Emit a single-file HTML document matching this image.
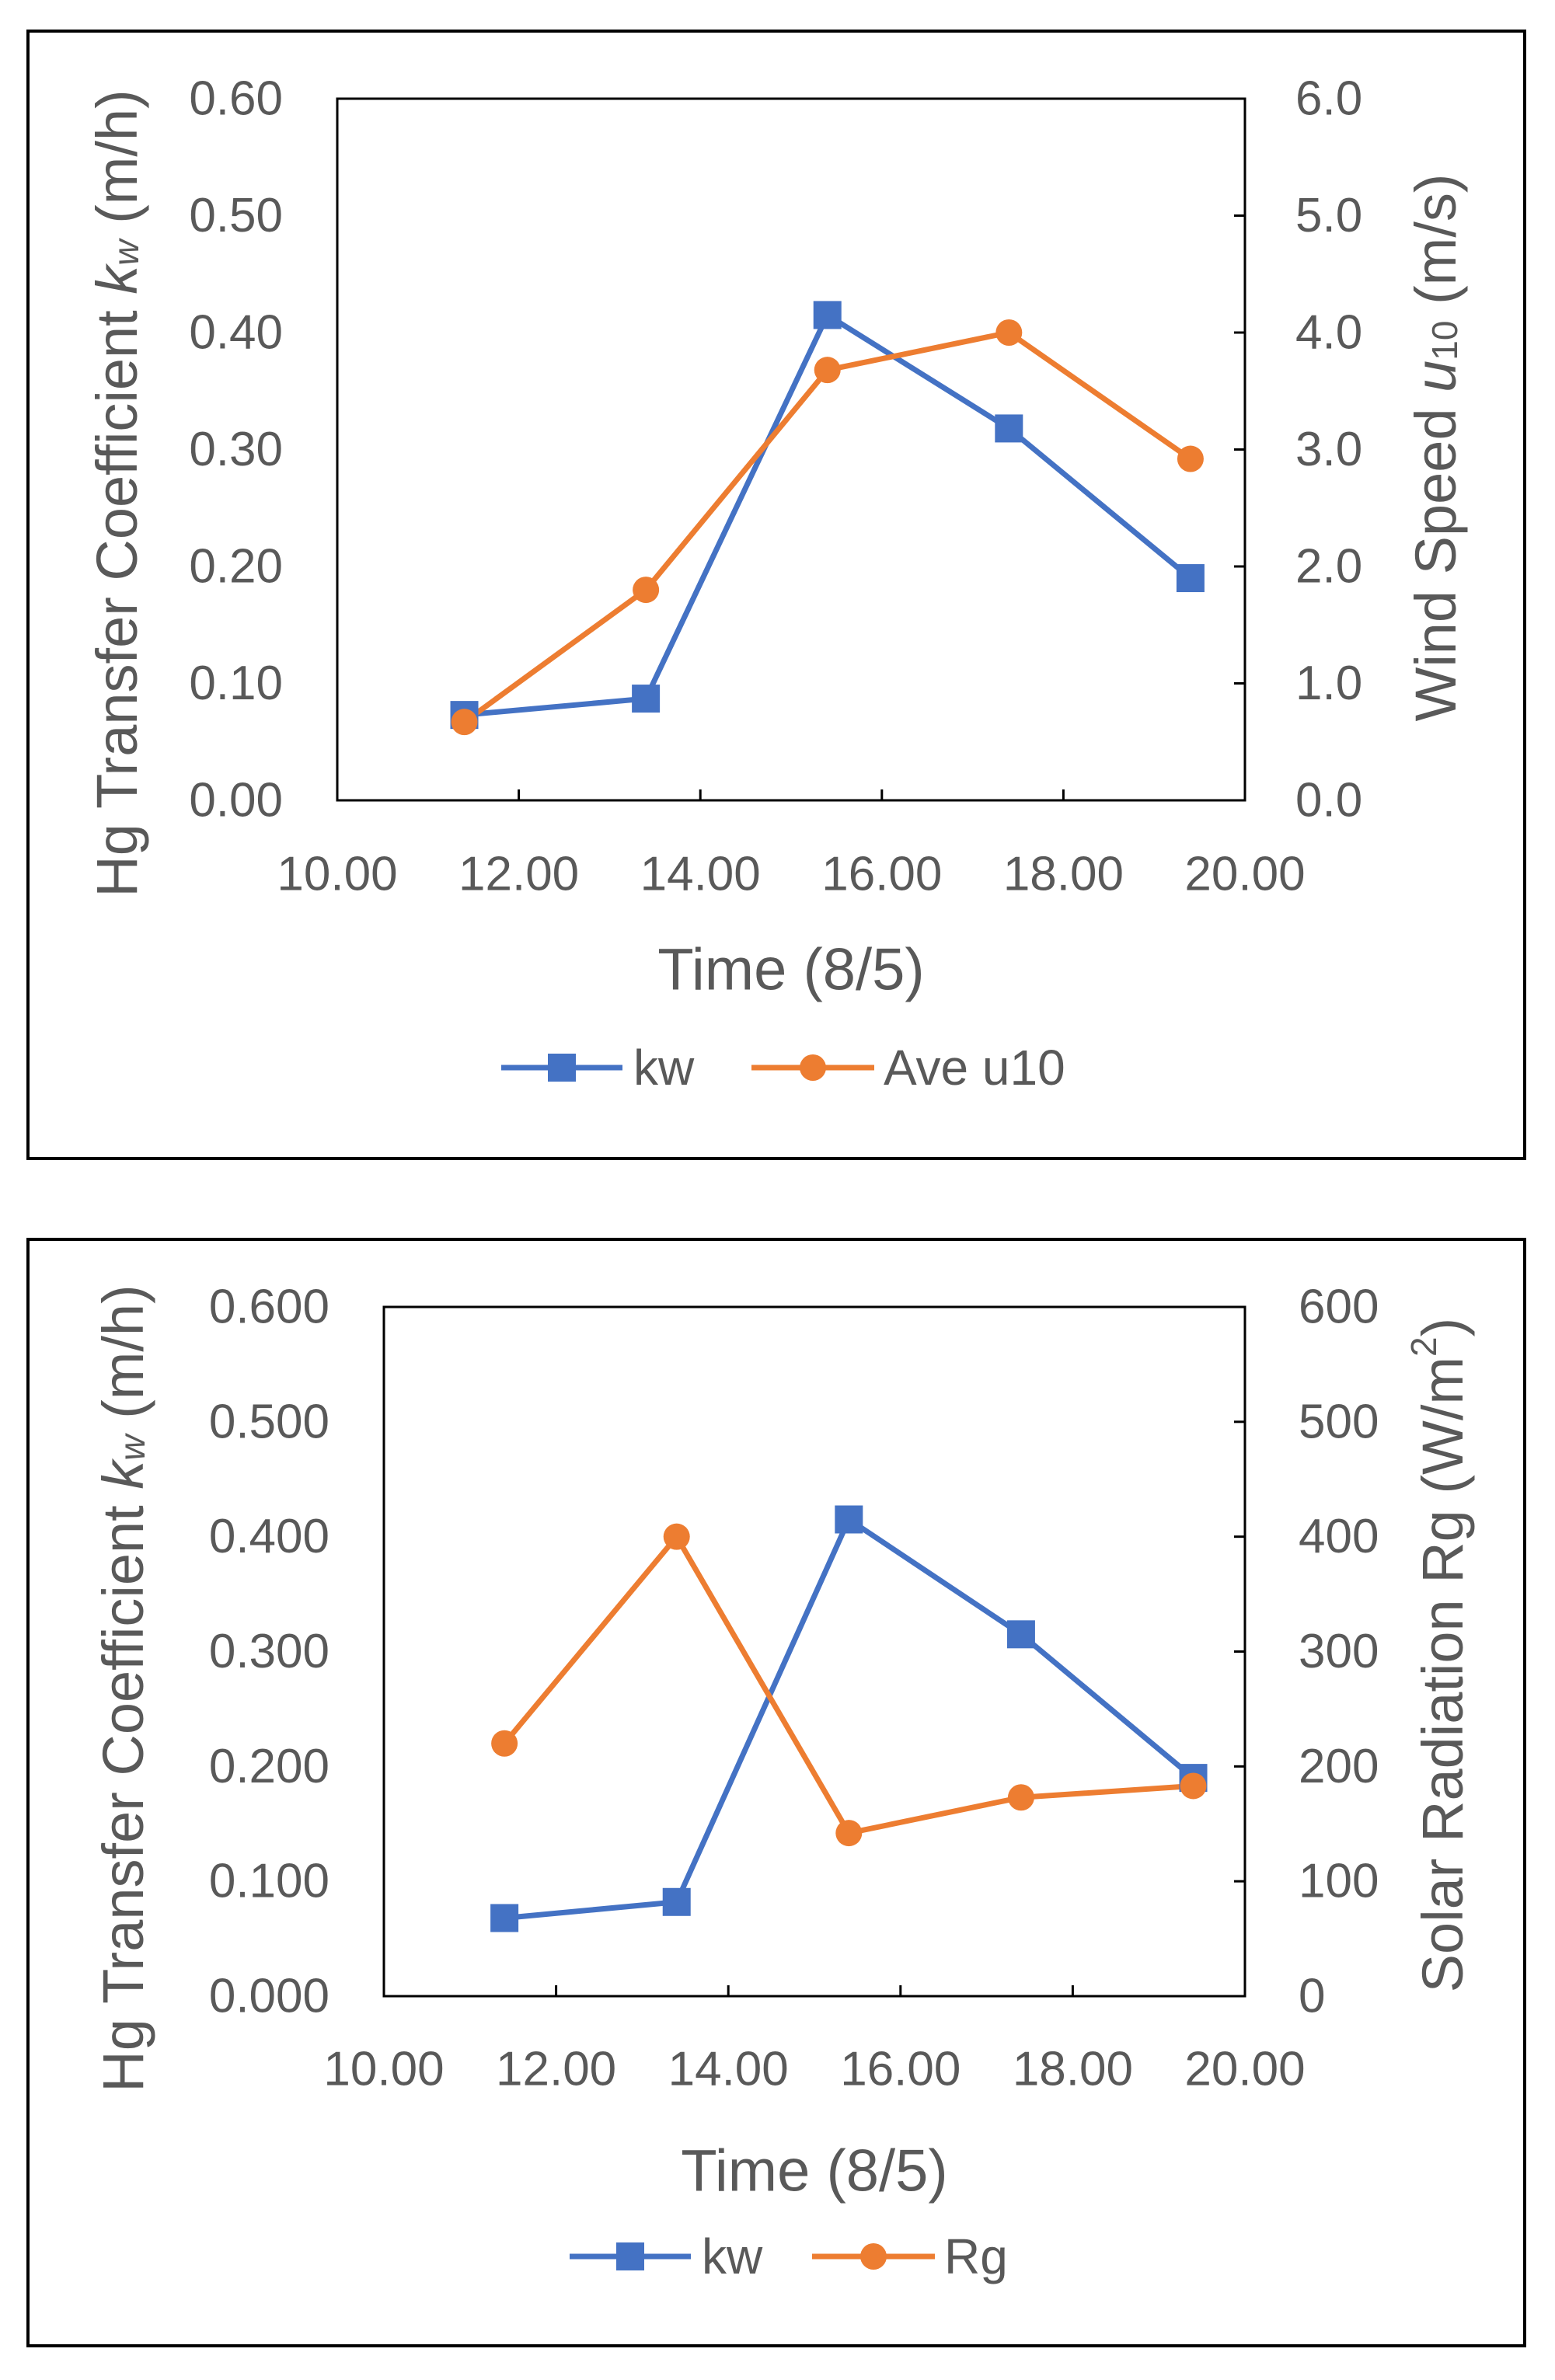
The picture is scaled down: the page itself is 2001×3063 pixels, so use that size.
<!DOCTYPE html>
<html><head><meta charset="utf-8"><style>
html,body{margin:0;padding:0;background:#fff;}
svg{display:block;font-family:"Liberation Sans",Arial,sans-serif;}
</style></head><body>
<svg id="svg" width="2001" height="3063" viewBox="0 0 2001 3063" xmlns="http://www.w3.org/2000/svg">
<rect x="36" y="40" width="1926" height="1451" fill="none" stroke="#000" stroke-width="4"/>
<rect x="36" y="1595" width="1926" height="1424" fill="none" stroke="#000" stroke-width="4"/>
<g id="c1"></g>
<g id="c2"></g>
</svg>
<script>
const times = [11.4, 13.4, 15.4, 17.4, 19.4];
const kw1 = [0.073, 0.087, 0.415, 0.318, 0.19];
const u10 = [0.67, 1.8, 3.68, 4.0, 2.92];
const kw2 = [0.068, 0.082, 0.415, 0.315, 0.19];
const rg = [220, 400, 142, 173, 183];
const xTicks = ["10.00","12.00","14.00","16.00","18.00","20.00"];
const yTicks1 = ["0.00","0.10","0.20","0.30","0.40","0.50","0.60"];
const y2Ticks1 = ["0.0","1.0","2.0","3.0","4.0","5.0","6.0"];
const yTicks2 = ["0.000","0.100","0.200","0.300","0.400","0.500","0.600"];
const y2Ticks2 = ["0","100","200","300","400","500","600"];

const NS="http://www.w3.org/2000/svg";
const BLUE="#4472C4", ORANGE="#ED7D31", GRAY="#595959";
const TICKF=62;
function mk(parent,tag,attrs,text){const e=document.createElementNS(NS,tag);for(const k in attrs)e.setAttribute(k,attrs[k]);if(text!==undefined)e.textContent=text;parent.appendChild(e);return e;}

function chart(g,o){
  const L=o.L,R=o.R,T=o.T,B=o.B;
  const xs=v=>L+(v-10)/10*(R-L);
  const ys=v=>B-v/o.yMax*(B-T);
  const ys2=v=>B-v/o.y2Max*(B-T);
  const box=mk(g,'rect',{x:L,y:T,width:R-L,height:B-T,fill:'none',stroke:'#000','stroke-width':3});
  
  
  xTicks.forEach((t,i)=>{
    const v=10+i*2,x=xs(v);
    if(i>0&&i<xTicks.length-1){const tk=mk(g,'line',{x1:x,x2:x,y1:B,y2:B-14,stroke:'#000','stroke-width':3});
    
    }
    const tx=mk(g,'text',{x:x,y:o.xLabY,'text-anchor':'middle','dominant-baseline':'central','font-size':TICKF,fill:GRAY},t);
    
    
  });
  o.yT.forEach((t,i)=>{
    const y=B-i/(o.yT.length-1)*(B-T);
    const tx=mk(g,'text',{x:o.yLabX,y:y,'text-anchor':'end','dominant-baseline':'central','font-size':TICKF,fill:GRAY},t);
    
    
  });
  o.y2T.forEach((t,i)=>{
    const y=B-i/(o.y2T.length-1)*(B-T);
    if(i>0&&i<o.y2T.length-1){const tk=mk(g,'line',{x1:R,x2:R-14,y1:y,y2:y,stroke:'#000','stroke-width':3});
    
    }
    const tx=mk(g,'text',{x:o.y2LabX,y:y,'text-anchor':'start','dominant-baseline':'central','font-size':TICKF,fill:GRAY},t);
    
    
  });
  const p1=times.map((t,i)=>xs(t)+','+ys(o.kw[i])).join(' ');
  const l1=mk(g,'polyline',{points:p1,fill:'none',stroke:BLUE,'stroke-width':7,'stroke-linejoin':'round'});
  
  
  const p2=times.map((t,i)=>xs(t)+','+ys2(o.s2[i])).join(' ');
  const l2=mk(g,'polyline',{points:p2,fill:'none',stroke:ORANGE,'stroke-width':7,'stroke-linejoin':'round'});
  
  
  times.forEach((t,i)=>{
    const m=mk(g,'rect',{x:xs(t)-18,y:ys(o.kw[i])-18,width:36,height:36,fill:BLUE});
    
    
  });
  times.forEach((t,i)=>{
    const m=mk(g,'circle',{cx:xs(t),cy:ys2(o.s2[i]),r:17,fill:ORANGE});
    
    
  });
  const xt=mk(g,'text',{x:(L+R)/2,y:o.xTitleY,'text-anchor':'middle','dominant-baseline':'central','font-size':76,fill:GRAY},'Time (8/5)');
  
  
  const yt=mk(g,'text',{transform:`translate(${o.yTitleX},${o.yTitleY}) rotate(-90)`,'text-anchor':'middle','dominant-baseline':'central','font-size':74,fill:GRAY});
  
  
  mk(yt,'tspan',{},'Hg Transfer Coefficient ');
  mk(yt,'tspan',{'font-style':'italic'},'k');
  mk(yt,'tspan',{'font-size':46,'font-style':'italic',dy:12},'w');
  mk(yt,'tspan',{dy:-12},' (m/h)');
  const y2t=mk(g,'text',{transform:`translate(${o.y2TitleX},${o.y2TitleY}) rotate(-90)`,'text-anchor':'middle','dominant-baseline':'central','font-size':74,fill:GRAY});
  
  
  o.y2Title(y2t);
  const ly=o.legY;
  const a=mk(g,'line',{x1:o.leg[0],x2:o.leg[0]+156,y1:ly,y2:ly,stroke:BLUE,'stroke-width':7});
  
  
  const am=mk(g,'rect',{x:o.leg[0]+78-18,y:ly-18,width:36,height:36,fill:BLUE});
  
  
  const at=mk(g,'text',{x:o.leg[0]+170,y:ly,'dominant-baseline':'central','font-size':64,fill:GRAY},'kw');
  
  
  const b=mk(g,'line',{x1:o.leg[1],x2:o.leg[1]+158,y1:ly,y2:ly,stroke:ORANGE,'stroke-width':7});
  
  
  const bm=mk(g,'circle',{cx:o.leg[1]+79,cy:ly,r:17,fill:ORANGE});
  
  
  const bt=mk(g,'text',{x:o.leg[1]+170,y:ly,'dominant-baseline':'central','font-size':64,fill:GRAY},o.s2Label);
  
  
}

chart(document.getElementById('c1'),{L:434,R:1602,T:127,B:1030,yMax:0.6,y2Max:6,kw:kw1,s2:u10,s2Name:'u10',s2Label:'Ave u10',
  yT:yTicks1,y2T:y2Ticks1,yLabX:364,y2LabX:1667,xLabY:1125,xTitleY:1248,yTitleX:150,yTitleY:635,y2TitleX:1847,y2TitleY:576,
  legY:1374,leg:[645,967],
  y2Title:t=>{mk(t,'tspan',{},'Wind Speed ');mk(t,'tspan',{'font-style':'italic'},'u');mk(t,'tspan',{'font-size':46,dy:12},'10');mk(t,'tspan',{dy:-12},' (m/s)');}});
chart(document.getElementById('c2'),{L:494,R:1602,T:1682,B:2569,yMax:0.6,y2Max:600,kw:kw2,s2:rg,s2Name:'rg',s2Label:'Rg',
  yT:yTicks2,y2T:y2Ticks2,yLabX:424,y2LabX:1671,xLabY:2663,xTitleY:2794,yTitleX:158,yTitleY:2173,y2TitleX:1856,y2TitleY:2130,
  legY:2904,leg:[733,1045],
  y2Title:t=>{mk(t,'tspan',{},'Solar Radiation Rg (W/m');mk(t,'tspan',{'font-size':46,dy:-24},'2');mk(t,'tspan',{dy:24},')');}});
</script>
</body></html>
